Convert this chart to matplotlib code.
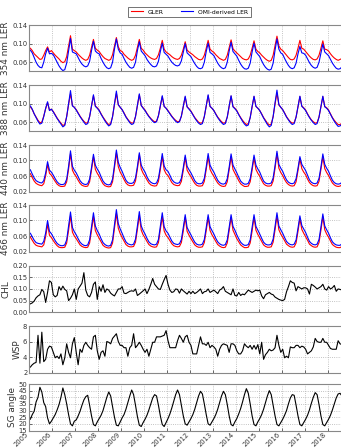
import numpy as np
import matplotlib
matplotlib.use("Agg")
import matplotlib.pyplot as plt

# monthly series, Jan 2005 .. Aug 2018 (one row per year)
gler_354 = [
    0.090, 0.085, 0.078, 0.074, 0.070, 0.066, 0.067, 0.075, 0.085, 0.093, 0.082, 0.085,
    0.080, 0.075, 0.071, 0.067, 0.062, 0.059, 0.061, 0.072, 0.095, 0.117, 0.088, 0.085,
    0.082, 0.077, 0.073, 0.069, 0.066, 0.064, 0.066, 0.075, 0.092, 0.109, 0.090, 0.086,
    0.083, 0.077, 0.072, 0.068, 0.066, 0.064, 0.066, 0.076, 0.095, 0.113, 0.093, 0.085,
    0.083, 0.077, 0.073, 0.069, 0.066, 0.064, 0.066, 0.075, 0.092, 0.109, 0.090, 0.086,
    0.080, 0.076, 0.072, 0.069, 0.067, 0.066, 0.068, 0.076, 0.090, 0.107, 0.088, 0.082,
    0.079, 0.076, 0.072, 0.069, 0.067, 0.066, 0.068, 0.075, 0.088, 0.104, 0.086, 0.082,
    0.079, 0.076, 0.072, 0.069, 0.066, 0.065, 0.067, 0.075, 0.090, 0.107, 0.088, 0.084,
    0.081, 0.076, 0.072, 0.068, 0.066, 0.064, 0.066, 0.075, 0.091, 0.108, 0.089, 0.084,
    0.080, 0.076, 0.072, 0.068, 0.066, 0.065, 0.067, 0.075, 0.090, 0.106, 0.088, 0.083,
    0.080, 0.075, 0.071, 0.067, 0.064, 0.062, 0.064, 0.075, 0.095, 0.116, 0.095, 0.088,
    0.085, 0.080, 0.075, 0.070, 0.066, 0.065, 0.067, 0.075, 0.090, 0.107, 0.090, 0.088,
    0.083, 0.078, 0.073, 0.069, 0.066, 0.065, 0.067, 0.075, 0.090, 0.106, 0.088, 0.087,
    0.084, 0.078, 0.073, 0.069, 0.066, 0.064, 0.066, 0.068,
]
omi_354 = [
    0.086, 0.080, 0.070, 0.060, 0.053, 0.049, 0.048, 0.060, 0.078, 0.090, 0.078, 0.079,
    0.076, 0.068, 0.060, 0.052, 0.046, 0.042, 0.044, 0.058, 0.085, 0.111, 0.082, 0.080,
    0.078, 0.070, 0.062, 0.056, 0.052, 0.050, 0.052, 0.062, 0.085, 0.105, 0.084, 0.080,
    0.078, 0.068, 0.060, 0.053, 0.048, 0.046, 0.048, 0.060, 0.088, 0.110, 0.088, 0.080,
    0.077, 0.068, 0.060, 0.054, 0.049, 0.047, 0.049, 0.060, 0.085, 0.104, 0.084, 0.079,
    0.074, 0.066, 0.060, 0.055, 0.051, 0.050, 0.052, 0.062, 0.083, 0.101, 0.081, 0.077,
    0.073, 0.066, 0.060, 0.056, 0.053, 0.052, 0.054, 0.063, 0.082, 0.100, 0.080, 0.076,
    0.072, 0.064, 0.057, 0.051, 0.047, 0.046, 0.048, 0.060, 0.083, 0.101, 0.081, 0.078,
    0.074, 0.066, 0.058, 0.052, 0.048, 0.046, 0.048, 0.060, 0.084, 0.103, 0.083, 0.078,
    0.073, 0.064, 0.056, 0.050, 0.046, 0.045, 0.047, 0.058, 0.082, 0.101, 0.082, 0.077,
    0.072, 0.063, 0.055, 0.049, 0.045, 0.043, 0.045, 0.058, 0.086, 0.110, 0.088, 0.080,
    0.077, 0.068, 0.060, 0.053, 0.048, 0.046, 0.048, 0.058, 0.078, 0.094, 0.080, 0.079,
    0.075, 0.067, 0.059, 0.053, 0.049, 0.047, 0.049, 0.060, 0.080, 0.099, 0.082, 0.078,
    0.074, 0.066, 0.058, 0.052, 0.047, 0.045, 0.046, 0.050,
]
gler_388 = [
    0.093, 0.087, 0.078, 0.071, 0.064, 0.059, 0.060, 0.073, 0.089, 0.102, 0.086, 0.088,
    0.083, 0.076, 0.069, 0.063, 0.058, 0.053, 0.055, 0.072, 0.098, 0.121, 0.096, 0.092,
    0.087, 0.080, 0.073, 0.067, 0.062, 0.058, 0.059, 0.072, 0.094, 0.117, 0.095, 0.091,
    0.086, 0.078, 0.071, 0.065, 0.059, 0.055, 0.057, 0.072, 0.098, 0.122, 0.097, 0.092,
    0.087, 0.080, 0.072, 0.066, 0.061, 0.058, 0.059, 0.072, 0.096, 0.119, 0.096, 0.091,
    0.086, 0.079, 0.073, 0.068, 0.064, 0.061, 0.062, 0.074, 0.094, 0.115, 0.094, 0.090,
    0.085, 0.079, 0.073, 0.068, 0.064, 0.061, 0.062, 0.073, 0.093, 0.114, 0.093, 0.089,
    0.084, 0.077, 0.070, 0.065, 0.060, 0.058, 0.059, 0.072, 0.095, 0.117, 0.094, 0.090,
    0.085, 0.078, 0.071, 0.066, 0.061, 0.058, 0.059, 0.071, 0.094, 0.116, 0.094, 0.090,
    0.085, 0.077, 0.070, 0.064, 0.059, 0.055, 0.057, 0.070, 0.093, 0.115, 0.094, 0.090,
    0.085, 0.078, 0.070, 0.064, 0.058, 0.054, 0.056, 0.072, 0.099, 0.123, 0.097, 0.092,
    0.087, 0.080, 0.072, 0.066, 0.061, 0.058, 0.059, 0.071, 0.093, 0.115, 0.095, 0.091,
    0.086, 0.078, 0.071, 0.065, 0.061, 0.058, 0.059, 0.071, 0.093, 0.115, 0.094, 0.091,
    0.086, 0.078, 0.070, 0.064, 0.059, 0.055, 0.055, 0.058,
]
omi_388 = [
    0.095, 0.088, 0.078, 0.070, 0.062, 0.056, 0.058, 0.072, 0.090, 0.104, 0.085, 0.088,
    0.082, 0.075, 0.068, 0.062, 0.056, 0.050, 0.053, 0.072, 0.100, 0.128, 0.095, 0.092,
    0.086, 0.079, 0.072, 0.066, 0.060, 0.055, 0.057, 0.072, 0.095, 0.119, 0.094, 0.090,
    0.085, 0.077, 0.070, 0.063, 0.057, 0.052, 0.055, 0.072, 0.100, 0.127, 0.098, 0.092,
    0.087, 0.079, 0.071, 0.065, 0.059, 0.055, 0.057, 0.072, 0.097, 0.121, 0.096, 0.090,
    0.085, 0.078, 0.072, 0.067, 0.062, 0.059, 0.061, 0.074, 0.095, 0.117, 0.094, 0.090,
    0.084, 0.078, 0.072, 0.067, 0.062, 0.059, 0.061, 0.073, 0.094, 0.116, 0.093, 0.088,
    0.083, 0.076, 0.069, 0.063, 0.058, 0.055, 0.057, 0.072, 0.096, 0.119, 0.094, 0.090,
    0.085, 0.077, 0.070, 0.064, 0.059, 0.055, 0.057, 0.071, 0.095, 0.117, 0.093, 0.089,
    0.084, 0.076, 0.069, 0.062, 0.056, 0.052, 0.054, 0.070, 0.094, 0.116, 0.094, 0.090,
    0.085, 0.077, 0.069, 0.062, 0.055, 0.050, 0.053, 0.072, 0.102, 0.129, 0.098, 0.092,
    0.087, 0.079, 0.071, 0.065, 0.059, 0.055, 0.057, 0.071, 0.094, 0.116, 0.094, 0.090,
    0.085, 0.077, 0.070, 0.064, 0.059, 0.055, 0.057, 0.071, 0.094, 0.116, 0.093, 0.090,
    0.085, 0.077, 0.069, 0.062, 0.056, 0.051, 0.052, 0.056,
]
gler_440 = [
    0.066, 0.056, 0.047, 0.041, 0.038, 0.036, 0.035, 0.040, 0.060, 0.090, 0.067, 0.062,
    0.054, 0.046, 0.039, 0.035, 0.033, 0.033, 0.034, 0.045, 0.078, 0.118, 0.075, 0.065,
    0.058, 0.049, 0.041, 0.036, 0.034, 0.033, 0.034, 0.045, 0.076, 0.110, 0.077, 0.067,
    0.059, 0.049, 0.040, 0.035, 0.033, 0.032, 0.033, 0.045, 0.081, 0.120, 0.084, 0.070,
    0.061, 0.051, 0.042, 0.037, 0.035, 0.035, 0.036, 0.047, 0.078, 0.115, 0.078, 0.067,
    0.059, 0.050, 0.042, 0.037, 0.035, 0.034, 0.035, 0.046, 0.077, 0.110, 0.076, 0.066,
    0.061, 0.052, 0.043, 0.038, 0.036, 0.035, 0.036, 0.046, 0.075, 0.108, 0.075, 0.066,
    0.058, 0.049, 0.041, 0.036, 0.034, 0.034, 0.035, 0.046, 0.077, 0.110, 0.077, 0.067,
    0.059, 0.050, 0.042, 0.037, 0.034, 0.033, 0.034, 0.045, 0.076, 0.110, 0.077, 0.067,
    0.058, 0.048, 0.040, 0.036, 0.033, 0.033, 0.034, 0.045, 0.075, 0.107, 0.077, 0.067,
    0.059, 0.049, 0.040, 0.036, 0.034, 0.034, 0.035, 0.047, 0.080, 0.118, 0.080, 0.069,
    0.061, 0.051, 0.043, 0.038, 0.035, 0.034, 0.035, 0.045, 0.074, 0.105, 0.079, 0.070,
    0.063, 0.052, 0.043, 0.038, 0.035, 0.034, 0.035, 0.046, 0.077, 0.110, 0.079, 0.069,
    0.061, 0.051, 0.042, 0.037, 0.034, 0.033, 0.034, 0.037,
]
omi_440 = [
    0.076, 0.065, 0.055, 0.048, 0.045, 0.043, 0.042, 0.048, 0.068, 0.097, 0.075, 0.070,
    0.062, 0.053, 0.045, 0.040, 0.038, 0.038, 0.040, 0.052, 0.085, 0.125, 0.085, 0.075,
    0.068, 0.058, 0.048, 0.042, 0.039, 0.038, 0.040, 0.052, 0.082, 0.116, 0.088, 0.078,
    0.070, 0.058, 0.047, 0.041, 0.038, 0.037, 0.039, 0.052, 0.088, 0.127, 0.095, 0.082,
    0.072, 0.060, 0.049, 0.043, 0.041, 0.041, 0.043, 0.055, 0.085, 0.120, 0.088, 0.078,
    0.070, 0.058, 0.049, 0.044, 0.041, 0.040, 0.042, 0.054, 0.084, 0.118, 0.086, 0.076,
    0.072, 0.062, 0.051, 0.045, 0.042, 0.041, 0.043, 0.054, 0.082, 0.114, 0.085, 0.076,
    0.068, 0.058, 0.048, 0.042, 0.040, 0.040, 0.042, 0.054, 0.084, 0.118, 0.088, 0.078,
    0.070, 0.059, 0.049, 0.043, 0.040, 0.039, 0.041, 0.053, 0.083, 0.117, 0.088, 0.078,
    0.068, 0.057, 0.047, 0.042, 0.039, 0.039, 0.041, 0.053, 0.082, 0.114, 0.088, 0.078,
    0.070, 0.058, 0.047, 0.042, 0.040, 0.040, 0.042, 0.055, 0.087, 0.124, 0.090, 0.080,
    0.072, 0.060, 0.050, 0.044, 0.041, 0.040, 0.042, 0.053, 0.080, 0.110, 0.090, 0.082,
    0.074, 0.062, 0.050, 0.044, 0.041, 0.040, 0.042, 0.054, 0.083, 0.117, 0.090, 0.080,
    0.072, 0.060, 0.049, 0.043, 0.040, 0.039, 0.040, 0.044,
]
gler_466 = [
    0.057, 0.049, 0.041, 0.036, 0.034, 0.033, 0.032, 0.037, 0.058, 0.090, 0.062, 0.056,
    0.048, 0.041, 0.035, 0.031, 0.030, 0.030, 0.031, 0.042, 0.075, 0.112, 0.070, 0.060,
    0.053, 0.045, 0.037, 0.033, 0.031, 0.030, 0.031, 0.042, 0.075, 0.110, 0.074, 0.063,
    0.054, 0.045, 0.036, 0.032, 0.030, 0.029, 0.030, 0.042, 0.079, 0.118, 0.080, 0.066,
    0.056, 0.047, 0.038, 0.034, 0.032, 0.032, 0.033, 0.044, 0.077, 0.113, 0.075, 0.063,
    0.055, 0.046, 0.038, 0.034, 0.032, 0.031, 0.032, 0.043, 0.076, 0.110, 0.073, 0.062,
    0.056, 0.048, 0.040, 0.035, 0.033, 0.032, 0.033, 0.043, 0.073, 0.108, 0.072, 0.062,
    0.053, 0.045, 0.037, 0.033, 0.031, 0.031, 0.032, 0.043, 0.074, 0.108, 0.074, 0.063,
    0.055, 0.046, 0.038, 0.034, 0.031, 0.030, 0.031, 0.042, 0.074, 0.108, 0.075, 0.064,
    0.053, 0.045, 0.037, 0.033, 0.030, 0.030, 0.031, 0.042, 0.073, 0.108, 0.075, 0.064,
    0.055, 0.046, 0.037, 0.033, 0.031, 0.031, 0.032, 0.044, 0.076, 0.112, 0.076, 0.065,
    0.057, 0.048, 0.039, 0.035, 0.032, 0.031, 0.032, 0.042, 0.072, 0.105, 0.077, 0.067,
    0.058, 0.049, 0.039, 0.035, 0.032, 0.031, 0.032, 0.043, 0.075, 0.110, 0.076, 0.065,
    0.057, 0.047, 0.038, 0.034, 0.031, 0.030, 0.030, 0.033,
]
omi_466 = [
    0.067, 0.058, 0.049, 0.043, 0.041, 0.040, 0.039, 0.046, 0.068, 0.100, 0.072, 0.066,
    0.057, 0.048, 0.041, 0.037, 0.035, 0.035, 0.037, 0.050, 0.085, 0.122, 0.082, 0.071,
    0.063, 0.053, 0.044, 0.039, 0.036, 0.035, 0.037, 0.050, 0.084, 0.120, 0.086, 0.074,
    0.065, 0.053, 0.043, 0.038, 0.035, 0.034, 0.036, 0.050, 0.088, 0.128, 0.092, 0.078,
    0.067, 0.055, 0.045, 0.040, 0.038, 0.037, 0.039, 0.052, 0.086, 0.123, 0.086, 0.074,
    0.065, 0.054, 0.045, 0.040, 0.038, 0.037, 0.039, 0.051, 0.085, 0.120, 0.084, 0.073,
    0.067, 0.057, 0.047, 0.041, 0.039, 0.038, 0.040, 0.051, 0.082, 0.115, 0.082, 0.072,
    0.063, 0.053, 0.044, 0.039, 0.037, 0.037, 0.039, 0.051, 0.082, 0.115, 0.084, 0.074,
    0.065, 0.054, 0.045, 0.040, 0.037, 0.036, 0.038, 0.050, 0.082, 0.115, 0.085, 0.075,
    0.063, 0.053, 0.044, 0.039, 0.036, 0.036, 0.038, 0.050, 0.082, 0.115, 0.085, 0.075,
    0.065, 0.054, 0.044, 0.039, 0.037, 0.037, 0.039, 0.052, 0.085, 0.120, 0.086, 0.076,
    0.067, 0.056, 0.046, 0.041, 0.038, 0.037, 0.039, 0.050, 0.080, 0.112, 0.087, 0.078,
    0.069, 0.057, 0.046, 0.041, 0.038, 0.037, 0.039, 0.051, 0.083, 0.117, 0.086, 0.076,
    0.067, 0.055, 0.045, 0.040, 0.037, 0.036, 0.036, 0.040,
]
chl = [
    0.036, 0.040, 0.048, 0.062, 0.070, 0.075, 0.098, 0.088, 0.042, 0.085, 0.135, 0.128,
    0.075, 0.066, 0.072, 0.110, 0.095, 0.112, 0.098, 0.092, 0.050, 0.060, 0.075, 0.100,
    0.055, 0.100, 0.112, 0.125, 0.170, 0.095, 0.072, 0.066, 0.085, 0.120, 0.130, 0.055,
    0.110, 0.090, 0.118, 0.085, 0.100, 0.095, 0.082, 0.075, 0.070, 0.085, 0.100, 0.100,
    0.110, 0.082, 0.080, 0.085, 0.090, 0.092, 0.090, 0.100, 0.072, 0.078, 0.085, 0.092,
    0.100, 0.080, 0.098, 0.120, 0.145, 0.120, 0.110, 0.100, 0.098, 0.120, 0.140, 0.158,
    0.120, 0.095, 0.085, 0.088, 0.100, 0.098, 0.082, 0.100, 0.092, 0.085, 0.078, 0.090,
    0.080, 0.090, 0.080, 0.085, 0.092, 0.100, 0.080, 0.088, 0.090, 0.100, 0.085, 0.090,
    0.095, 0.088, 0.080, 0.095, 0.100, 0.110, 0.090, 0.085, 0.080, 0.075, 0.100, 0.072,
    0.070, 0.085, 0.072, 0.078, 0.075, 0.085, 0.095, 0.090, 0.085, 0.090, 0.095, 0.092,
    0.095, 0.070, 0.058, 0.075, 0.080, 0.085, 0.078, 0.075, 0.065, 0.060, 0.055, 0.052,
    0.050, 0.055, 0.088, 0.110, 0.135, 0.128, 0.125, 0.092, 0.110, 0.105, 0.100, 0.105,
    0.105, 0.100, 0.078, 0.120, 0.115, 0.108, 0.100, 0.105, 0.110, 0.120, 0.100, 0.095,
    0.110, 0.100, 0.105, 0.115, 0.090, 0.100, 0.098, 0.095,
]
wsp = [
    2.7, 3.0, 3.2, 3.3, 6.8, 3.2, 7.2, 3.4, 3.7, 5.0, 5.4, 5.3,
    4.6, 3.9, 4.1, 3.8, 4.4, 3.0, 3.9, 5.7, 4.6, 3.9, 5.7, 6.5,
    4.6, 3.0, 5.0, 4.6, 5.5, 5.9, 5.5, 5.2, 5.0, 6.6, 6.8, 4.8,
    3.7, 4.6, 4.8, 4.1, 6.0, 5.9, 5.7, 6.4, 6.7, 7.0, 6.0, 5.5,
    5.5, 5.2, 5.2, 4.1, 5.2, 5.5, 7.0, 5.2, 5.5, 5.9, 5.5, 5.0,
    4.6, 5.0, 4.1, 5.0, 5.9, 5.9, 6.6, 6.6, 6.6, 6.7, 6.8, 7.4,
    6.1, 5.2, 5.2, 5.2, 5.2, 6.1, 6.8, 6.4, 5.9, 6.6, 6.8, 5.9,
    5.5, 4.4, 4.4, 4.4, 5.5, 6.6, 5.7, 5.7, 5.5, 5.9, 5.2, 5.5,
    5.3, 5.0, 4.1, 5.0, 5.5, 5.7, 5.6, 5.5, 4.6, 5.7, 5.7, 5.5,
    4.8, 4.4, 4.4, 4.8, 5.7, 5.4, 5.2, 5.5, 5.0, 5.5, 5.0, 5.6,
    4.4, 5.9, 3.7, 4.3, 4.6, 5.0, 4.8, 4.9, 5.2, 6.8, 5.5, 4.6,
    5.0, 3.9, 4.1, 3.9, 5.3, 5.2, 5.2, 5.5, 5.5, 5.2, 5.4, 5.3,
    5.0, 4.4, 4.6, 4.8, 5.3, 6.4, 6.0, 5.9, 5.9, 6.4, 5.9, 5.9,
    5.5, 5.1, 5.0, 5.0, 5.0, 6.1, 5.7, 5.6,
]
sg_angle = [
    23.5, 27.0, 29.5, 36.5, 40.0, 47.5, 44.0, 36.0, 33.0, 24.5, 20.0, 22.0,
    24.5, 27.0, 30.5, 34.5, 40.0, 47.0, 42.0, 35.0, 27.0, 20.0, 18.5, 22.0,
    23.0, 26.0, 29.5, 34.0, 38.0, 40.5, 41.5, 34.0, 26.0, 19.5, 18.5, 21.5,
    24.0, 26.5, 30.0, 35.0, 40.0, 44.0, 41.0, 33.0, 25.0, 19.0, 18.5, 21.5,
    24.5, 27.0, 31.0, 36.0, 41.0, 45.5, 42.0, 34.0, 25.5, 19.0, 18.0, 21.0,
    23.5, 26.5, 30.5, 35.0, 39.5, 42.0, 41.0, 34.0, 26.0, 19.5, 18.0, 21.0,
    24.0, 27.5, 32.0, 37.0, 42.0, 45.5, 42.0, 34.0, 26.0, 20.0, 19.0, 21.5,
    24.0, 27.0, 31.0, 36.0, 41.0, 44.5, 42.5, 35.0, 27.0, 20.0, 19.0, 21.5,
    24.0, 27.0, 31.0, 36.0, 41.0, 44.5, 42.0, 34.5, 26.0, 19.5, 18.5, 21.5,
    24.0, 27.5, 31.5, 36.5, 42.0, 46.5, 43.0, 35.0, 26.0, 19.5, 18.5, 21.5,
    24.0, 27.0, 31.0, 36.0, 41.0, 45.0, 42.0, 34.0, 26.0, 19.5, 18.5, 21.0,
    23.5, 26.5, 30.0, 35.0, 39.5, 42.0, 41.5, 34.0, 26.0, 19.5, 18.5, 21.0,
    23.5, 26.5, 30.5, 35.5, 40.0, 43.5, 42.0, 34.5, 26.0, 19.5, 18.5, 21.0,
    23.5, 26.5, 30.5, 35.0, 39.5, 42.5, 43.0, 41.0,
]

years = list(range(2005, 2019))
t = 2005 + (np.arange(len(chl)) + 0.5) / 12.0

ler_labels = ["354 nm LER", "388 nm LER", "440 nm LER", "466 nm LER"]
ler_pairs = [(gler_354, omi_354), (gler_388, omi_388),
             (gler_440, omi_440), (gler_466, omi_466)]

plt.rcParams["font.family"] = "DejaVu Sans"
fig = plt.figure(figsize=(3.41, 4.48), dpi=100)

W, H = 341.0, 448.0
x0 = 29.4
yr = 22.94
panel_tops = [25, 85, 145, 205, 265.7, 326, 384]
ph = 46.5

axes = []
for top in panel_tops:
    ax = fig.add_axes([x0 / W, 1 - (top + ph) / H, 14 * yr / W, ph / H])
    axes.append(ax)


def style(ax, ylabel, ylim, yticks, fmt):
    ax.set_xlim(2005, 2019)
    ax.set_ylim(*ylim)
    ax.set_yticks(yticks)
    ax.set_yticklabels([fmt % v for v in yticks])
    ax.set_xticks(years)
    ax.grid(True, linestyle=":", color="#b0b0b0", linewidth=0.6)
    ax.set_axisbelow(True)
    ax.tick_params(labelsize=4.9, length=2, width=0.5, direction="in",
                   colors="#333333", pad=1.5)
    for s in ax.spines.values():
        s.set_color("#888888")
        s.set_linewidth(0.8)
    ax.set_ylabel(ylabel, fontsize=6.4, color="#333333", labelpad=1.2)


for i, (gler, omi) in enumerate(ler_pairs):
    ax = axes[i]
    ax.plot(t, gler, color="red", lw=0.8, label="GLER")
    ax.plot(t, omi, color="blue", lw=0.8, label="OMI-derived LER")
    if i < 2:
        style(ax, ler_labels[i], (0.04, 0.14), [0.06, 0.10, 0.14], "%.2f")
    else:
        style(ax, ler_labels[i], (0.02, 0.14), [0.02, 0.06, 0.10, 0.14], "%.2f")

axes[4].plot(t, chl, color="black", lw=0.8)
style(axes[4], "CHL", (0.0, 0.2), [0.0, 0.05, 0.10, 0.15, 0.20], "%.2f")

axes[5].plot(t, wsp, color="black", lw=0.8)
style(axes[5], "WSP", (2, 8), [2, 4, 6, 8], "%d")

axes[6].plot(t, sg_angle, color="black", lw=0.8)
style(axes[6], "SG angle", (15, 50), list(range(15, 51, 5)), "%d")

for ax in axes[:-1]:
    ax.set_xticklabels([])
axes[-1].set_xticklabels([str(y) for y in years], rotation=45, ha="right",
                         fontsize=4.9)
axes[-1].tick_params(axis="x", pad=0.8)

h, l = axes[0].get_legend_handles_labels()
leg = fig.legend(h, l, loc="center", bbox_to_anchor=(189.5 / W, 1 - 12 / H),
                 ncol=2, fontsize=4.3, frameon=True, fancybox=False,
                 handlelength=2.0, columnspacing=3.0, borderpad=0.4)
leg.get_frame().set_edgecolor("#333333")
leg.get_frame().set_linewidth(0.6)

fig.savefig("out.png", dpi=100)
